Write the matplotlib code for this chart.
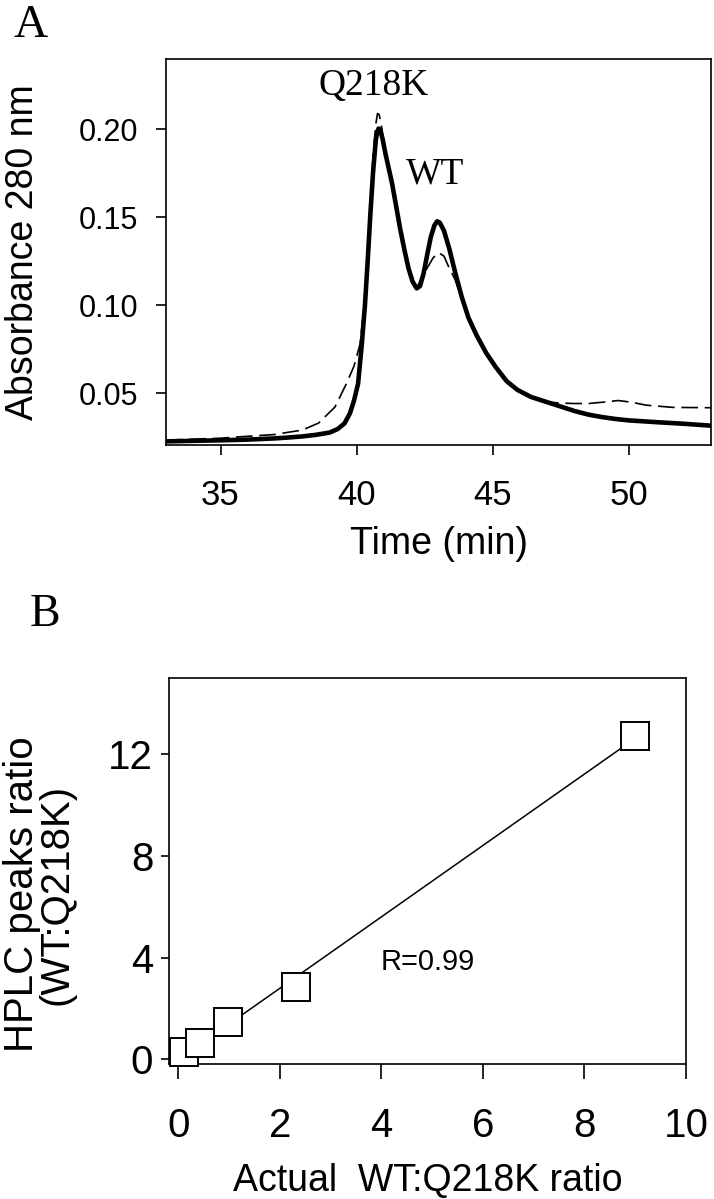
import numpy as np
import matplotlib
matplotlib.use('Agg')
import matplotlib.pyplot as plt

plt.rcParams['font.family'] = ['Liberation Sans', 'DejaVu Sans']

# panel A: HPLC traces (time in min, absorbance at 280 nm)
solid_t = [33.0, 34.0, 35.0, 36.0, 37.0, 37.5, 38.0, 38.5, 39.0, 39.3, 39.55,
           39.75, 39.9, 40.05, 40.18, 40.3, 40.4, 40.5, 40.6, 40.7, 40.75,
           40.8, 40.86, 40.95, 41.05, 41.3, 41.6, 41.75, 41.9, 42.05, 42.2,
           42.32, 42.45, 42.6, 42.72, 42.85, 42.95, 43.05, 43.2, 43.4, 43.6,
           43.85, 44.1, 44.4, 44.75, 45.1, 45.5, 45.9, 46.4, 47.0, 47.5, 48.0,
           48.5, 49.0, 49.5, 50.0, 51.0, 52.0, 53.0]
solid_a = [0.0228, 0.0231, 0.0234, 0.0238, 0.0245, 0.0250, 0.0256, 0.0265,
           0.0278, 0.0298, 0.0330, 0.0387, 0.0460, 0.0557, 0.0770, 0.1000,
           0.1250, 0.1520, 0.1760, 0.1940, 0.1985, 0.2005, 0.2000, 0.1945,
           0.1865, 0.1690, 0.1430, 0.1315, 0.1210, 0.1135, 0.1097, 0.1110,
           0.1180, 0.1300, 0.1390, 0.1455, 0.1478, 0.1470, 0.1425, 0.1320,
           0.1195, 0.1050, 0.0930, 0.0830, 0.0730, 0.0650, 0.0570, 0.0520,
           0.0480, 0.0450, 0.0425, 0.0400, 0.0380, 0.0366, 0.0355, 0.0347,
           0.0337, 0.0328, 0.0317]

dash_t = [33.0, 35.0, 36.0, 37.0, 37.5, 38.0, 38.6, 39.2, 39.63, 39.9, 40.12,
          40.3, 40.45, 40.6, 40.7, 40.76, 40.82, 40.9, 41.0, 41.3, 41.6, 41.9,
          42.2, 42.5, 42.8, 43.0, 43.2, 43.4, 43.6, 43.85, 44.1, 44.4, 44.75,
          45.1, 45.5, 45.9, 46.4, 47.0, 47.5, 48.0, 48.5, 49.0, 49.6, 50.1,
          50.6, 51.6, 53.0]
dash_a = [0.0235, 0.0246, 0.0257, 0.0267, 0.0280, 0.0292, 0.0332, 0.0423,
          0.0559, 0.0656, 0.0780, 0.1040, 0.1450, 0.1850, 0.2030, 0.2090,
          0.2085, 0.2030, 0.1900, 0.1680, 0.1420, 0.1210, 0.1100, 0.1190,
          0.1270, 0.1300, 0.1280, 0.1210, 0.1150, 0.1040, 0.0930, 0.0830,
          0.0730, 0.0650, 0.0570, 0.0515, 0.0475, 0.0452, 0.0445, 0.0443,
          0.0443, 0.0450, 0.0460, 0.0450, 0.0434, 0.0421, 0.0419]

# panel B: actual vs measured WT:Q218K ratio
actual_ratio = [0.11, 0.43, 0.99, 2.32, 8.99]
hplc_ratio = [0.30, 0.63, 1.46, 2.85, 12.70]

fig = plt.figure(figsize=(7.14, 11.99), dpi=100)

# ---- A ----
axA = fig.add_axes([0.2325, 0.6291, 0.7633, 0.3217])
axA.plot(solid_t, solid_a, color='black', lw=3.3, solid_joinstyle='round',
         solid_capstyle='round')
axA.plot(dash_t, dash_a, color='black', lw=1.2, dashes=(10, 4))
axA.set_xlim(33, 53)
axA.set_ylim(0.0209, 0.24)
axA.set_xticks([35, 40, 45, 50])
axA.set_yticks([0.05, 0.10, 0.15, 0.20])
axA.set_yticklabels(['0.05', '0.10', '0.15', '0.20'])
axA.tick_params(axis='y', direction='out', length=7, width=1.2, pad=13, labelsize=22)
axA.tick_params(axis='x', direction='out', length=7, width=1.2, pad=18, labelsize=25)
for s in axA.spines.values():
    s.set_linewidth(1.2)
axA.set_xlabel('Time (min)', fontsize=27, labelpad=10)
axA.set_ylabel('Absorbance 280 nm', fontsize=27)
axA.yaxis.set_label_coords(-0.229, 0.5)
axA.text(40.63, 0.2247, 'Q218K', family='Liberation Serif', fontsize=27,
         ha='center', va='center')
axA.text(42.87, 0.1744, 'WT', family='Liberation Serif', fontsize=27,
         ha='center', va='center')

# ---- B ----
axB = fig.add_axes([0.236, 0.1126, 0.7248, 0.3219])
fit = np.polyfit(actual_ratio, hplc_ratio, 1)
xfit = np.array([actual_ratio[0], actual_ratio[-1]])
axB.plot(xfit, np.polyval(fit, xfit), color='black', lw=1.1, zorder=2)
axB.plot(actual_ratio, hplc_ratio, 's', ms=19.5, mfc='white', mec='black',
         mew=1.4, zorder=3, clip_on=False)
axB.set_xlim(-0.19, 10)
axB.set_ylim(-0.185, 15.0)
axB.set_xticks([0, 2, 4, 6, 8, 10])
axB.set_yticks([0, 4, 8, 12])
axB.tick_params(axis='y', direction='out', length=6, width=1.2, pad=5, labelsize=29)
axB.tick_params(axis='x', direction='out', length=11, width=1.2, pad=20, labelsize=29)
for s in axB.spines.values():
    s.set_linewidth(1.2)
axB.set_xlabel('Actual  WT:Q218K ratio', fontsize=27, labelpad=13)
axB.set_ylabel('HPLC peaks ratio\n(WT:Q218K)', fontsize=29, linespacing=0.9)
axB.yaxis.set_label_coords(-0.179, 0.44)
axB.text(4.91, 3.83, 'R=0.99', fontsize=21, ha='center', va='center')

fig.text(31 / 714, 1 - 26 / 1199, 'A', family='Liberation Serif', fontsize=34,
         ha='center', va='center')
fig.text(45 / 714, 1 - 615 / 1199, 'B', family='Liberation Serif', fontsize=33,
         ha='center', va='center')

fig.savefig('out.png', dpi=100)
